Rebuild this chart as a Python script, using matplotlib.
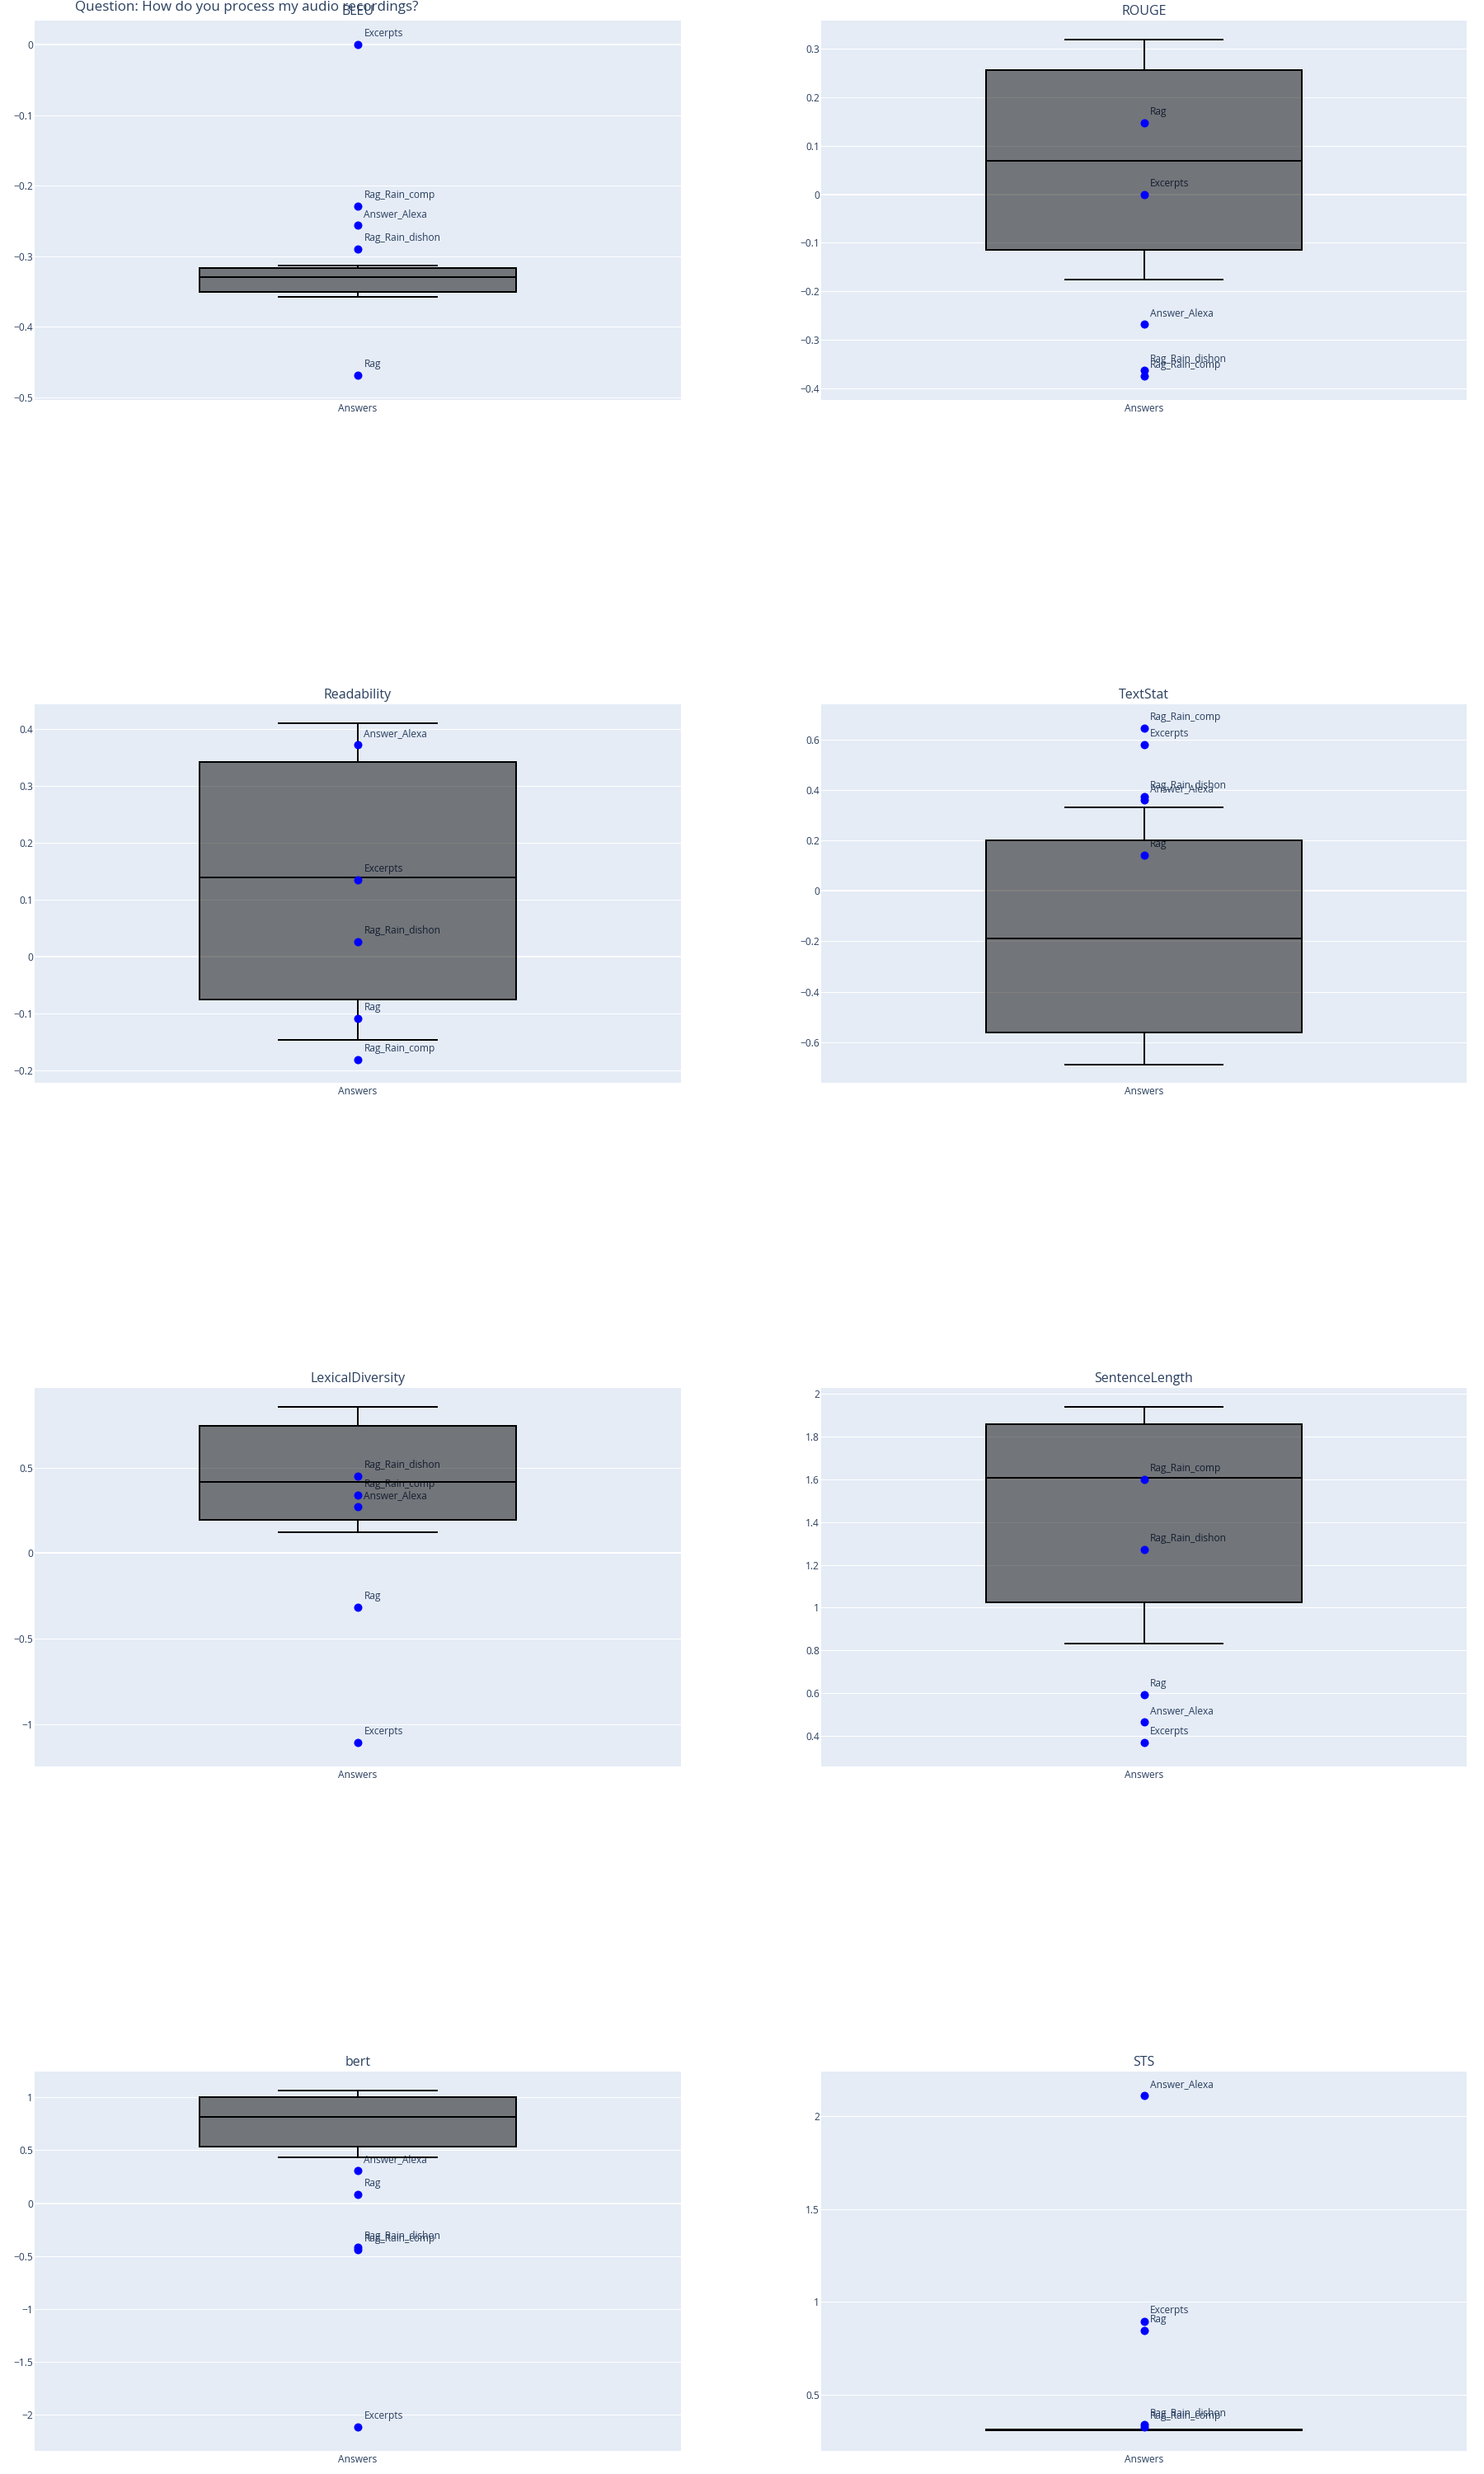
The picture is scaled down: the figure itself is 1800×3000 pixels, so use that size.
import numpy as np
import matplotlib
matplotlib.use("Agg")
import matplotlib.pyplot as plt
from matplotlib.ticker import MultipleLocator, FuncFormatter

# --- data ---
question = "Question: How do you process my audio recordings?"
metrics = ["BLEU", "ROUGE", "Readability", "TextStat",
           "LexicalDiversity", "SentenceLength", "bert", "STS"]
answers = ["Excerpts", "Rag", "Rag_Rain_comp", "Rag_Rain_dishon", "Answer_Alexa"]

bleu        = [0.000, -0.469, -0.229, -0.290, -0.256]
rouge       = [0.000, 0.147, -0.374, -0.363, -0.268]
readability = [0.134, -0.109, -0.181, 0.026, 0.373]
textstat    = [0.580, 0.140, 0.645, 0.373, 0.360]
lexical     = [-1.107, -0.314, 0.341, 0.450, 0.271]
sentlen     = [0.368, 0.594, 1.601, 1.270, 0.464]
bert        = [-2.112, 0.081, -0.436, -0.418, 0.309]
sts         = [0.895, 0.844, 0.324, 0.339, 2.113]
values = [bleu, rouge, readability, textstat, lexical, sentlen, bert, sts]

# box statistics (reference distribution) per metric
box_lo  = [-0.357, -0.1755, -0.1473, -0.689, 0.120, 0.831, 0.436, 0.3068]
box_q1  = [-0.350, -0.1144, -0.0758, -0.563, 0.194, 1.024, 0.532, 0.3074]
box_med = [-0.329, 0.069, 0.1386, -0.1894, 0.415, 1.606, 0.8156, 0.3085]
box_q3  = [-0.3167, 0.2565, 0.3425, 0.2003, 0.744, 1.856, 1.005, 0.3096]
box_hi  = [-0.3128, 0.319, 0.4106, 0.331, 0.856, 1.938, 1.0675, 0.3102]

# axis ranges / tick steps
ylims = [(-0.5035, 0.034), (-0.4238, 0.358), (-0.2222, 0.4435), (-0.761, 0.739),
         (-1.245, 0.965), (0.2576, 2.027), (-2.340, 1.244), (0.1962, 2.2416)]
tick_steps = [0.1, 0.1, 0.1, 0.2, 0.5, 0.2, 0.5, 0.5]

# --- style ---
W, H, DPI = 1800, 3000, 100
PX = 72.0 / DPI  # points per pixel
TXT = "#2a3f5f"
BG = "#e5ecf6"
plt.rcParams["font.family"] = ["Open Sans", "DejaVu Sans"]

fig = plt.figure(figsize=(W / DPI, H / DPI), dpi=DPI)

col_x = [(42, 826), (996, 1779)]
row_y = [(25, 485), (854, 1313), (1683, 2142), (2512, 2972)]


def fmt(v, pos):
    v = round(v, 8)
    if v == 0:
        return "0"
    return f"{v:g}".replace("-", "\u2212")


for i, m in enumerate(metrics):
    r, c = divmod(i, 2)
    x0, x1 = col_x[c]
    y0, y1 = row_y[r]
    ax = fig.add_axes([x0 / W, 1 - y1 / H, (x1 - x0) / W, (y1 - y0) / H])
    ax.set_facecolor(BG)
    for s in ax.spines.values():
        s.set_visible(False)

    ax.set_xlim(-0.5, 0.5)
    ax.set_ylim(*ylims[i])
    ax.yaxis.set_major_locator(MultipleLocator(tick_steps[i]))
    ax.yaxis.set_major_formatter(FuncFormatter(fmt))
    ax.grid(axis="y", color="white", lw=1 * PX, zorder=0)
    ax.set_axisbelow(True)
    if ylims[i][0] < 0 < ylims[i][1]:
        ax.axhline(0, color="white", lw=2 * PX, zorder=0.5)

    stats = [dict(whislo=box_lo[i], q1=box_q1[i], med=box_med[i],
                  q3=box_q3[i], whishi=box_hi[i], fliers=[])]
    ax.bxp(stats, positions=[0], widths=0.49, capwidths=0.245,
           patch_artist=True, showfliers=False, manage_ticks=False,
           boxprops=dict(facecolor=(0, 0, 0, 0.5), edgecolor="black", lw=2 * PX),
           whiskerprops=dict(color="black", lw=2 * PX),
           capprops=dict(color="black", lw=2 * PX),
           medianprops=dict(color="black", lw=2 * PX),
           zorder=2)

    vals = values[i]
    ax.plot(np.zeros(len(vals)), vals, "o", color="#0000ff",
            ms=10 * PX, mec="none", zorder=3)
    for name, v in zip(answers, vals):
        ax.annotate(name, (0, v), xytext=(7.5, 10), textcoords="offset pixels",
                    ha="left", va="baseline", fontsize=12 * PX, color=TXT,
                    zorder=1.5)

    ax.set_xticks([0])
    ax.set_xticklabels(["Answers"])
    ax.tick_params(axis="x", length=0, pad=4 * PX, labelsize=12 * PX, labelcolor=TXT)
    ax.tick_params(axis="y", length=0, pad=2 * PX, labelsize=12 * PX, labelcolor=TXT)
    ax.set_title(m, fontsize=16 * PX, color=TXT, pad=7 * PX)

fig.text(91 / W, 1 - 13 / H, question, ha="left", va="baseline",
         fontsize=17 * PX, color=TXT)

fig.savefig("out.png", dpi=DPI, facecolor="white")
